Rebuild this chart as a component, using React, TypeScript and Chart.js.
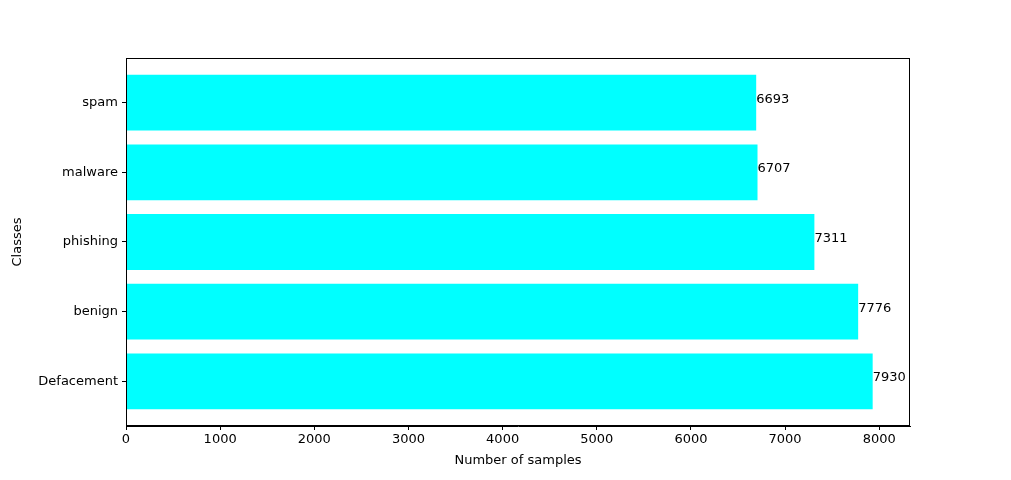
import { useEffect, useRef } from 'react'
import { Chart, registerables } from 'chart.js'

Chart.register(...registerables)

const CLASSES = ['Defacement', 'benign', 'phishing', 'malware', 'spam']
const COUNTS = [7930, 7776, 7311, 6707, 6693]
const X_TICKS = [0, 1000, 2000, 3000, 4000, 5000, 6000, 7000, 8000]

const FONT = "'DejaVu Sans', sans-serif"

// frame around the plot area plus value labels at the bar ends
const decor = {
  id: 'decor',
  afterDatasetsDraw(chart: Chart) {
    const { ctx, chartArea } = chart
    ctx.save()
    ctx.strokeStyle = '#000'
    ctx.lineWidth = 1
    ctx.strokeRect(chartArea.left + 0.5, chartArea.top + 0.5, chartArea.width - 1, chartArea.height - 1)
    const meta = chart.getDatasetMeta(0)
    ctx.fillStyle = '#000'
    ctx.font = `13px ${FONT}`
    ctx.textAlign = 'left'
    ctx.textBaseline = 'alphabetic'
    meta.data.forEach((bar: any, i) => {
      ctx.fillText(String(COUNTS[i]), bar.x, bar.y)
    })
    ctx.restore()
  },
}

export default function App() {
  const canvasRef = useRef<HTMLCanvasElement>(null)

  useEffect(() => {
    document.body.style.margin = '0'
    if (!canvasRef.current) return
    const chart = new Chart(canvasRef.current, {
      type: 'bar',
      data: {
        datasets: [
          {
            data: COUNTS.map((v, i) => ({ x: v, y: i })),
            backgroundColor: '#00ffff',
            categoryPercentage: 0.8,
            barPercentage: 1,
          },
        ],
      },
      options: {
        indexAxis: 'y',
        animation: false,
        responsive: false,
        layout: { padding: { left: 10, top: 58, right: 101, bottom: 12 } },
        plugins: { legend: { display: false }, tooltip: { enabled: false } },
        scales: {
          x: {
            type: 'linear',
            min: 0,
            max: 8326.5,
            afterBuildTicks: (s: any) => { s.ticks = X_TICKS.map((v) => ({ value: v })) },
            afterFit: (s: any) => { s.height = 42 },
            grid: { drawOnChartArea: false, drawTicks: true, tickLength: 4, color: '#000' },
            border: { color: '#000' },
            ticks: { color: '#000', font: { family: FONT, size: 13 }, maxRotation: 0, padding: 2, callback: (v: any) => String(v) },
            title: { display: true, text: 'Number of samples', color: '#000', font: { family: FONT, size: 13 }, padding: { top: 2, bottom: 0 } },
          },
          y: {
            type: 'linear',
            offset: false,
            min: -0.64,
            max: 4.64,
            afterBuildTicks: (s: any) => { s.ticks = CLASSES.map((_, i) => ({ value: i })) },
            afterFit: (s: any) => { s.width = 116 },
            grid: { drawOnChartArea: false, drawTicks: true, tickLength: 4, offset: false, color: '#000' },
            border: { color: '#000' },
            ticks: {
              color: '#000',
              font: { family: FONT, size: 13 },
              padding: 4,
              callback: (v: any) => CLASSES[Math.round(Number(v))] ?? '',
            },
            title: { display: true, text: 'Classes', color: '#000', font: { family: FONT, size: 13 }, padding: { top: 0, bottom: 0 } },
          },
        },
      },
      plugins: [decor],
    })
    return () => chart.destroy()
  }, [])

  return (
    <div style={{ width: 1011, height: 480, background: '#fff' }}>
      <canvas ref={canvasRef} width={1011} height={480} />
    </div>
  )
}
